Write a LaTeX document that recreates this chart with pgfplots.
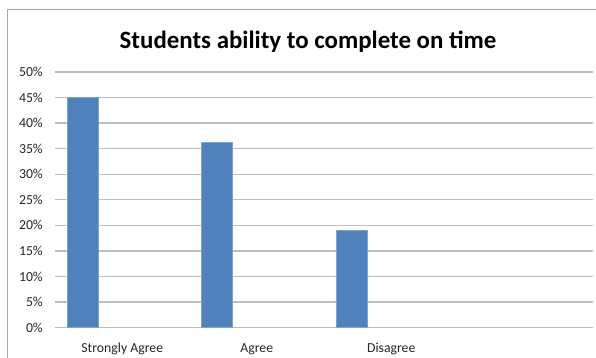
\documentclass[border=0pt]{standalone}
\usepackage{pgfplots}
\pgfplotsset{compat=1.18}
\usepackage{fontspec}
\setmainfont{Carlito}
\definecolor{barblue}{HTML}{4F81BD}
\definecolor{baredge}{HTML}{7FA3D1}
\definecolor{gridgray}{HTML}{BEBEBE}
\definecolor{framegray}{HTML}{A6A6A6}
\begin{document}
\begin{tikzpicture}[x=1bp,y=1bp]
\clip (0,0) rectangle (596,357);
\fill[white] (0,0) rectangle (596,357);
\draw[framegray, line width=1bp] (7.5,-10) -- (7.5,347) -- (620,347);
\node[anchor=base, font=\fontsize{25}{29}\selectfont\bfseries, inner sep=0pt] at (308,309) {Students ability to complete on time};
\begin{axis}[
  at={(55bp,29.5bp)}, anchor=south west,
  width=538bp, height=255.5bp, scale only axis,
  xmin=0, xmax=4, ymin=0, ymax=50,
  axis line style={draw=none},
  major tick length=0pt,
  ytick={0,5,...,50},
  yticklabel={\pgfmathprintnumber{\tick}\%},
  /pgf/number format/assume math mode=true,
  ymajorgrids, grid style={gridgray, line width=1.3bp},
  xtick={0.5,1.5,2.5},
  xticklabels={Strongly Agree, Agree, Disagree},
  tick label style={font=\fontsize{13.8}{16}\selectfont, text=black!85},
  yticklabel style={anchor=east, inner sep=0pt, xshift=-12bp},
  xticklabel style={anchor=base, inner sep=0pt, yshift=-24.8bp},
  ybar, bar width=31bp, bar shift=0pt,
  clip=false,
]
\addplot[fill=barblue, draw=baredge, line width=0.6bp] coordinates {(0.2045,45) (1.2045,36.2) (2.2045,19)};
\end{axis}
\end{tikzpicture}
\end{document}
